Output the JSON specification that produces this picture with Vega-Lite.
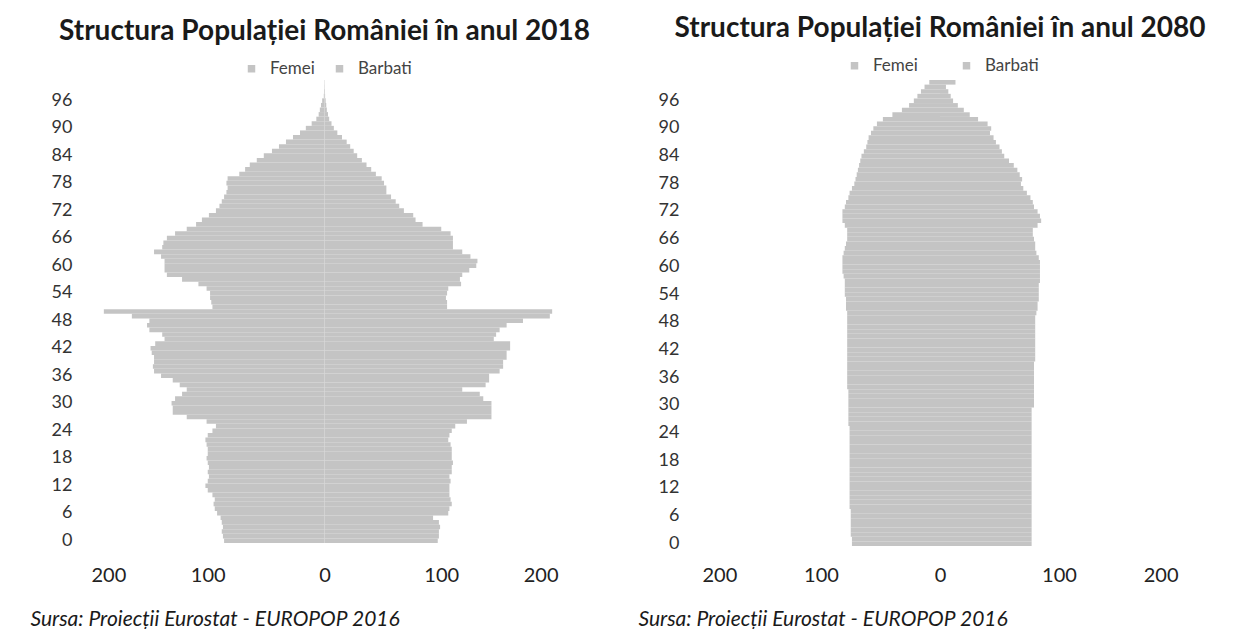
{
  "$schema": "https://vega.github.io/schema/vega-lite/v6.json",
  "background": "white",
  "padding": {"left": 30, "top": 15, "right": 5, "bottom": 0},
  "spacing": 48,
  "config": {"font": "Lato", "view": {"stroke": null}},
  "datasets": {
    "pop": [
      {"year":2018,"age":0,"Femei":-86,"Barbati":97},{"year":2018,"age":1,"Femei":-87,"Barbati":98},{"year":2018,"age":2,"Femei":-88,"Barbati":98},{"year":2018,"age":3,"Femei":-87,"Barbati":99},{"year":2018,"age":4,"Femei":-88,"Barbati":98},
      {"year":2018,"age":5,"Femei":-89,"Barbati":93},{"year":2018,"age":6,"Femei":-92,"Barbati":106},{"year":2018,"age":7,"Femei":-94,"Barbati":107},{"year":2018,"age":8,"Femei":-95,"Barbati":109},{"year":2018,"age":9,"Femei":-94,"Barbati":108},
      {"year":2018,"age":10,"Femei":-96,"Barbati":107},{"year":2018,"age":11,"Femei":-100,"Barbati":107},{"year":2018,"age":12,"Femei":-102,"Barbati":107},{"year":2018,"age":13,"Femei":-100,"Barbati":108},{"year":2018,"age":14,"Femei":-99,"Barbati":107},
      {"year":2018,"age":15,"Femei":-100,"Barbati":109},{"year":2018,"age":16,"Femei":-99,"Barbati":109},{"year":2018,"age":17,"Femei":-100,"Barbati":110},{"year":2018,"age":18,"Femei":-101,"Barbati":109},{"year":2018,"age":19,"Femei":-100,"Barbati":109},
      {"year":2018,"age":20,"Femei":-100,"Barbati":109},{"year":2018,"age":21,"Femei":-101,"Barbati":108},{"year":2018,"age":22,"Femei":-102,"Barbati":106},{"year":2018,"age":23,"Femei":-100,"Barbati":107},{"year":2018,"age":24,"Femei":-96,"Barbati":109},
      {"year":2018,"age":25,"Femei":-93,"Barbati":112},{"year":2018,"age":26,"Femei":-101,"Barbati":122},{"year":2018,"age":27,"Femei":-118,"Barbati":143},{"year":2018,"age":28,"Femei":-130,"Barbati":143},{"year":2018,"age":29,"Femei":-130,"Barbati":143},
      {"year":2018,"age":30,"Femei":-131,"Barbati":143},{"year":2018,"age":31,"Femei":-128,"Barbati":136},{"year":2018,"age":32,"Femei":-122,"Barbati":133},{"year":2018,"age":33,"Femei":-118,"Barbati":118},{"year":2018,"age":34,"Femei":-124,"Barbati":138},
      {"year":2018,"age":35,"Femei":-130,"Barbati":141},{"year":2018,"age":36,"Femei":-140,"Barbati":141},{"year":2018,"age":37,"Femei":-146,"Barbati":150},{"year":2018,"age":38,"Femei":-147,"Barbati":153},{"year":2018,"age":39,"Femei":-146,"Barbati":153},
      {"year":2018,"age":40,"Femei":-146,"Barbati":156},{"year":2018,"age":41,"Femei":-148,"Barbati":156},{"year":2018,"age":42,"Femei":-149,"Barbati":159},{"year":2018,"age":43,"Femei":-145,"Barbati":159},{"year":2018,"age":44,"Femei":-137,"Barbati":145},
      {"year":2018,"age":45,"Femei":-139,"Barbati":147},{"year":2018,"age":46,"Femei":-150,"Barbati":150},{"year":2018,"age":47,"Femei":-152,"Barbati":156},{"year":2018,"age":48,"Femei":-150,"Barbati":170},{"year":2018,"age":49,"Femei":-165,"Barbati":193},
      {"year":2018,"age":50,"Femei":-189,"Barbati":195},{"year":2018,"age":51,"Femei":-96,"Barbati":105},{"year":2018,"age":52,"Femei":-97,"Barbati":105},{"year":2018,"age":53,"Femei":-98,"Barbati":104},{"year":2018,"age":54,"Femei":-98,"Barbati":105},
      {"year":2018,"age":55,"Femei":-101,"Barbati":106},{"year":2018,"age":56,"Femei":-108,"Barbati":117},{"year":2018,"age":57,"Femei":-122,"Barbati":116},{"year":2018,"age":58,"Femei":-135,"Barbati":118},{"year":2018,"age":59,"Femei":-137,"Barbati":124},
      {"year":2018,"age":60,"Femei":-137,"Barbati":130},{"year":2018,"age":61,"Femei":-137,"Barbati":131},{"year":2018,"age":62,"Femei":-140,"Barbati":125},{"year":2018,"age":63,"Femei":-146,"Barbati":118},{"year":2018,"age":64,"Femei":-139,"Barbati":110},
      {"year":2018,"age":65,"Femei":-138,"Barbati":110},{"year":2018,"age":66,"Femei":-135,"Barbati":110},{"year":2018,"age":67,"Femei":-128,"Barbati":108},{"year":2018,"age":68,"Femei":-118,"Barbati":100},{"year":2018,"age":69,"Femei":-110,"Barbati":84},
      {"year":2018,"age":70,"Femei":-105,"Barbati":78},{"year":2018,"age":71,"Femei":-99,"Barbati":76},{"year":2018,"age":72,"Femei":-93,"Barbati":68},{"year":2018,"age":73,"Femei":-90,"Barbati":64},{"year":2018,"age":74,"Femei":-88,"Barbati":61},
      {"year":2018,"age":75,"Femei":-86,"Barbati":57},{"year":2018,"age":76,"Femei":-84,"Barbati":53},{"year":2018,"age":77,"Femei":-83,"Barbati":53},{"year":2018,"age":78,"Femei":-84,"Barbati":51},{"year":2018,"age":79,"Femei":-83,"Barbati":49},
      {"year":2018,"age":80,"Femei":-73,"Barbati":44},{"year":2018,"age":81,"Femei":-68,"Barbati":40},{"year":2018,"age":82,"Femei":-64,"Barbati":36},{"year":2018,"age":83,"Femei":-58,"Barbati":32},{"year":2018,"age":84,"Femei":-52,"Barbati":28},
      {"year":2018,"age":85,"Femei":-45,"Barbati":25},{"year":2018,"age":86,"Femei":-39,"Barbati":22},{"year":2018,"age":87,"Femei":-33,"Barbati":19},{"year":2018,"age":88,"Femei":-27,"Barbati":15},{"year":2018,"age":89,"Femei":-21,"Barbati":11},
      {"year":2018,"age":90,"Femei":-16,"Barbati":8},{"year":2018,"age":91,"Femei":-11,"Barbati":6},{"year":2018,"age":92,"Femei":-7,"Barbati":4},{"year":2018,"age":93,"Femei":-5,"Barbati":3},{"year":2018,"age":94,"Femei":-4,"Barbati":2},
      {"year":2018,"age":95,"Femei":-3,"Barbati":1.5},{"year":2018,"age":96,"Femei":-2,"Barbati":1},{"year":2018,"age":97,"Femei":-0.6,"Barbati":0.5},{"year":2018,"age":98,"Femei":-0.4,"Barbati":0.3},{"year":2018,"age":99,"Femei":-0.2,"Barbati":0.2},
      {"year":2018,"age":100,"Femei":-0.2,"Barbati":0.1},
      {"year":2080,"age":0,"Femei":-74,"Barbati":77},{"year":2080,"age":1,"Femei":-74,"Barbati":77},{"year":2080,"age":2,"Femei":-75,"Barbati":77},{"year":2080,"age":3,"Femei":-75,"Barbati":77},{"year":2080,"age":4,"Femei":-75,"Barbati":77},
      {"year":2080,"age":5,"Femei":-75,"Barbati":77},{"year":2080,"age":6,"Femei":-75,"Barbati":77},{"year":2080,"age":7,"Femei":-75,"Barbati":77},{"year":2080,"age":8,"Femei":-76,"Barbati":77},{"year":2080,"age":9,"Femei":-76,"Barbati":77},
      {"year":2080,"age":10,"Femei":-76,"Barbati":77},{"year":2080,"age":11,"Femei":-76,"Barbati":77},{"year":2080,"age":12,"Femei":-76,"Barbati":77},{"year":2080,"age":13,"Femei":-76,"Barbati":77},{"year":2080,"age":14,"Femei":-76,"Barbati":77},
      {"year":2080,"age":15,"Femei":-76,"Barbati":77},{"year":2080,"age":16,"Femei":-76,"Barbati":77},{"year":2080,"age":17,"Femei":-76,"Barbati":77},{"year":2080,"age":18,"Femei":-76,"Barbati":77},{"year":2080,"age":19,"Femei":-76,"Barbati":77},
      {"year":2080,"age":20,"Femei":-76,"Barbati":77},{"year":2080,"age":21,"Femei":-76,"Barbati":77},{"year":2080,"age":22,"Femei":-76,"Barbati":77},{"year":2080,"age":23,"Femei":-76,"Barbati":77},{"year":2080,"age":24,"Femei":-76,"Barbati":77},
      {"year":2080,"age":25,"Femei":-76,"Barbati":77},{"year":2080,"age":26,"Femei":-77,"Barbati":77},{"year":2080,"age":27,"Femei":-77,"Barbati":77},{"year":2080,"age":28,"Femei":-77,"Barbati":77},{"year":2080,"age":29,"Femei":-77,"Barbati":77},
      {"year":2080,"age":30,"Femei":-77,"Barbati":79},{"year":2080,"age":31,"Femei":-77,"Barbati":79},{"year":2080,"age":32,"Femei":-77,"Barbati":79},{"year":2080,"age":33,"Femei":-77,"Barbati":79},{"year":2080,"age":34,"Femei":-78,"Barbati":79},
      {"year":2080,"age":35,"Femei":-78,"Barbati":79},{"year":2080,"age":36,"Femei":-78,"Barbati":79},{"year":2080,"age":37,"Femei":-78,"Barbati":79},{"year":2080,"age":38,"Femei":-78,"Barbati":79},{"year":2080,"age":39,"Femei":-78,"Barbati":79},
      {"year":2080,"age":40,"Femei":-78,"Barbati":80},{"year":2080,"age":41,"Femei":-78,"Barbati":80},{"year":2080,"age":42,"Femei":-78,"Barbati":80},{"year":2080,"age":43,"Femei":-78,"Barbati":80},{"year":2080,"age":44,"Femei":-78,"Barbati":80},
      {"year":2080,"age":45,"Femei":-78,"Barbati":80},{"year":2080,"age":46,"Femei":-78,"Barbati":80},{"year":2080,"age":47,"Femei":-78,"Barbati":80},{"year":2080,"age":48,"Femei":-78,"Barbati":80},{"year":2080,"age":49,"Femei":-78,"Barbati":80},
      {"year":2080,"age":50,"Femei":-78,"Barbati":81},{"year":2080,"age":51,"Femei":-79,"Barbati":82},{"year":2080,"age":52,"Femei":-79,"Barbati":82},{"year":2080,"age":53,"Femei":-79,"Barbati":83},{"year":2080,"age":54,"Femei":-80,"Barbati":83},
      {"year":2080,"age":55,"Femei":-80,"Barbati":83},{"year":2080,"age":56,"Femei":-80,"Barbati":83},{"year":2080,"age":57,"Femei":-80,"Barbati":84},{"year":2080,"age":58,"Femei":-81,"Barbati":84},{"year":2080,"age":59,"Femei":-82,"Barbati":84},
      {"year":2080,"age":60,"Femei":-82,"Barbati":84},{"year":2080,"age":61,"Femei":-82,"Barbati":84},{"year":2080,"age":62,"Femei":-82,"Barbati":83},{"year":2080,"age":63,"Femei":-81,"Barbati":81},{"year":2080,"age":64,"Femei":-80,"Barbati":80},
      {"year":2080,"age":65,"Femei":-79,"Barbati":80},{"year":2080,"age":66,"Femei":-78,"Barbati":79},{"year":2080,"age":67,"Femei":-78,"Barbati":78},{"year":2080,"age":68,"Femei":-78,"Barbati":78},{"year":2080,"age":69,"Femei":-80,"Barbati":82},
      {"year":2080,"age":70,"Femei":-82,"Barbati":85},{"year":2080,"age":71,"Femei":-82,"Barbati":84},{"year":2080,"age":72,"Femei":-82,"Barbati":82},{"year":2080,"age":73,"Femei":-80,"Barbati":79},{"year":2080,"age":74,"Femei":-79,"Barbati":78},
      {"year":2080,"age":75,"Femei":-77,"Barbati":76},{"year":2080,"age":76,"Femei":-76,"Barbati":73},{"year":2080,"age":77,"Femei":-74,"Barbati":70},{"year":2080,"age":78,"Femei":-72,"Barbati":68},{"year":2080,"age":79,"Femei":-71,"Barbati":69},
      {"year":2080,"age":80,"Femei":-70,"Barbati":67},{"year":2080,"age":81,"Femei":-69,"Barbati":65},{"year":2080,"age":82,"Femei":-68,"Barbati":62},{"year":2080,"age":83,"Femei":-67,"Barbati":58},{"year":2080,"age":84,"Femei":-66,"Barbati":54},
      {"year":2080,"age":85,"Femei":-64,"Barbati":52},{"year":2080,"age":86,"Femei":-62,"Barbati":50},{"year":2080,"age":87,"Femei":-61,"Barbati":47},{"year":2080,"age":88,"Femei":-60,"Barbati":45},{"year":2080,"age":89,"Femei":-58,"Barbati":42},
      {"year":2080,"age":90,"Femei":-56,"Barbati":43},{"year":2080,"age":91,"Femei":-53,"Barbati":40},{"year":2080,"age":92,"Femei":-48,"Barbati":32},{"year":2080,"age":93,"Femei":-40,"Barbati":25},{"year":2080,"age":94,"Femei":-32,"Barbati":20},
      {"year":2080,"age":95,"Femei":-26,"Barbati":15},{"year":2080,"age":96,"Femei":-22,"Barbati":11},{"year":2080,"age":97,"Femei":-19,"Barbati":9},{"year":2080,"age":98,"Femei":-16,"Barbati":7},{"year":2080,"age":99,"Femei":-13,"Barbati":5},
      {"year":2080,"age":100,"Femei":-9,"Barbati":13}
    ]
  },
  "resolve": {"legend": {"color": "independent"}, "scale": {"color": "independent"}},
  "hconcat": [
    {
      "width": 467,
      "height": 463,
      "data": {"name": "pop"},
      "transform": [
        {"filter": "datum.year == 2018"},
        {"fold": ["Femei", "Barbati"], "as": ["sex", "value"]}
      ],
      "title": {"text": "Structura Populației României în anul 2018", "fontSize": 28, "fontWeight": "bold", "color": "#1a1a1a", "anchor": "middle", "frame": "group", "offset": 14},
      "mark": {"type": "bar", "color": "#d4d4d4"},
      "encoding": {
        "y": {"field": "age", "type": "ordinal", "sort": "descending",
          "scale": {"paddingInner": 0, "paddingOuter": 0},
          "axis": {"values": [0,6,12,18,24,30,36,42,48,54,60,66,72,78,84,90,96], "title": null, "domain": false, "ticks": false, "labelFontSize": 18, "labelColor": "#333", "labelPadding": 19}},
        "x": {"field": "value", "type": "quantitative",
          "scale": {"domain": [-200, 200], "nice": false},
          "axis": {"values": [-200,-100,0,100,200], "labelExpr": "abs(datum.value)", "grid": false, "domain": false, "ticks": false, "labelFontSize": 20, "labelColor": "#222", "labelPadding": 22,
            "title": "Sursa: Proiecții Eurostat - EUROPOP 2016", "titleFontSize": 21, "titleFontStyle": "italic", "titleFontWeight": "normal", "titleColor": "#1a1a1a", "titleAnchor": "start", "titleAlign": "left", "titleBaseline": "middle", "titleX": -61, "titleY": 76}},
        "color": {"field": "sex", "type": "nominal",
          "scale": {"domain": ["Femei", "Barbati"], "range": ["#c4c4c4", "#c4c4c4"]},
          "legend": {"title": null, "orient": "none", "direction": "horizontal", "legendX": 152, "legendY": -20, "symbolType": "square", "symbolSize": 56, "labelFontSize": 17, "labelColor": "#444", "labelOffset": 10, "columnPadding": 16}}
      }
    },
    {
      "width": 476,
      "height": 466,
      "data": {"name": "pop"},
      "transform": [
        {"filter": "datum.year == 2080"},
        {"fold": ["Femei", "Barbati"], "as": ["sex", "value"]}
      ],
      "title": {"text": "Structura Populației României în anul 2080", "fontSize": 28, "fontWeight": "bold", "color": "#1a1a1a", "anchor": "middle", "frame": "group", "offset": 14},
      "mark": {"type": "bar", "color": "#d4d4d4"},
      "encoding": {
        "y": {"field": "age", "type": "ordinal", "sort": "descending",
          "scale": {"paddingInner": 0, "paddingOuter": 0},
          "axis": {"values": [0,6,12,18,24,30,36,42,48,54,60,66,72,78,84,90,96], "title": null, "domain": false, "ticks": false, "labelFontSize": 18, "labelColor": "#333", "labelPadding": 23}},
        "x": {"field": "value", "type": "quantitative",
          "scale": {"domain": [-200, 200], "nice": false},
          "axis": {"values": [-200,-100,0,100,200], "labelExpr": "abs(datum.value)", "grid": false, "domain": false, "ticks": false, "labelFontSize": 20, "labelColor": "#222", "labelPadding": 19,
            "title": "Sursa: Proiecții Eurostat - EUROPOP 2016", "titleFontSize": 21, "titleFontStyle": "italic", "titleFontWeight": "normal", "titleColor": "#1a1a1a", "titleAnchor": "start", "titleAlign": "left", "titleBaseline": "middle", "titleX": -64, "titleY": 73}},
        "color": {"field": "sex", "type": "nominal",
          "scale": {"domain": ["Femei", "Barbati"], "range": ["#c4c4c4", "#c4c4c4"]},
          "legend": {"title": null, "orient": "none", "direction": "horizontal", "legendX": 144, "legendY": -23, "symbolType": "square", "symbolSize": 56, "labelFontSize": 17, "labelColor": "#444", "labelOffset": 10, "columnPadding": 40}}
      }
    }
  ]
}
